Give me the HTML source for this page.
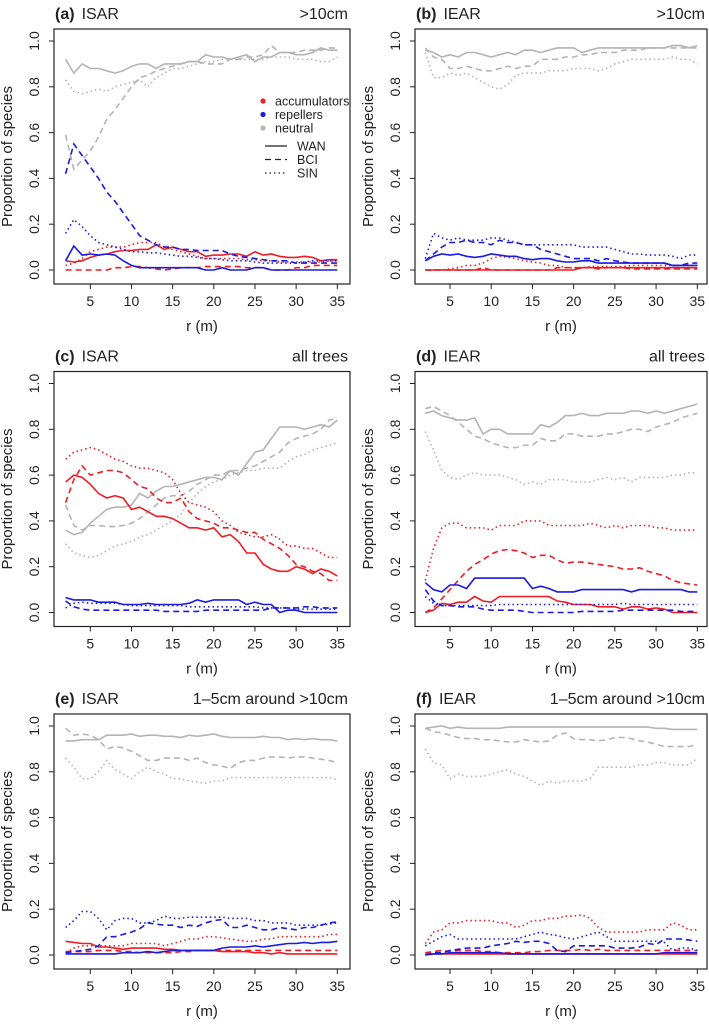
<!DOCTYPE html>
<html><head><meta charset="utf-8"><style>
body{margin:0;background:#fff;}
svg text{font-family:"Liberation Sans",sans-serif;fill:#222;}
</style></head><body>
<svg id="fig" width="709" height="1023" xmlns="http://www.w3.org/2000/svg"></svg>
<script>
const rVals=[];for(let r=2;r<=35;r++)rVals.push(r);
const xTicks=[5,10,15,20,25,30,35];
const yTicks=[0,0.2,0.4,0.6,0.8,1.0];
const yTickLabels=["0.0","0.2","0.4","0.6","0.8","1.0"];
const panelLabels=["(a)","(b)","(c)","(d)","(e)","(f)"];
const panelTypes=["ISAR","IEAR","ISAR","IEAR","ISAR","IEAR"];
const panelSubsets=[">10cm",">10cm","all trees","all trees","1–5cm around >10cm","1–5cm around >10cm"];

// panel a
const aNeuWAN=[0.92,0.86,0.90,0.88,0.88,0.87,0.86,0.87,0.89,0.90,0.90,0.88,0.90,0.90,0.90,0.91,0.91,0.94,0.93,0.93,0.92,0.93,0.94,0.91,0.93,0.93,0.95,0.95,0.94,0.94,0.95,0.97,0.96,0.96];
const aNeuBCI=[0.59,0.44,0.48,0.52,0.58,0.66,0.70,0.75,0.80,0.84,0.85,0.87,0.88,0.89,0.90,0.91,0.91,0.90,0.90,0.90,0.92,0.92,0.93,0.93,0.94,0.98,0.95,0.95,0.95,0.96,0.96,0.96,0.97,0.97];
const aNeuSIN=[0.83,0.78,0.77,0.78,0.79,0.78,0.80,0.81,0.82,0.83,0.80,0.84,0.86,0.88,0.88,0.89,0.90,0.91,0.91,0.92,0.92,0.92,0.92,0.92,0.92,0.93,0.93,0.93,0.92,0.92,0.92,0.91,0.91,0.93];
const aAccWAN=[0.04,0.035,0.04,0.055,0.065,0.07,0.08,0.085,0.085,0.09,0.09,0.11,0.09,0.1,0.09,0.08,0.08,0.06,0.065,0.065,0.07,0.07,0.06,0.08,0.065,0.07,0.06,0.055,0.055,0.06,0.055,0.04,0.045,0.045];
const aAccBCI=[0,0,0,0,0,0,0.01,0.01,0.015,0.015,0.01,0.005,0,0.005,0.01,0.01,0.01,0.015,0.015,0.015,0.015,0.015,0.01,0.01,0.01,0,0,0,0.01,0.01,0.02,0.02,0.02,0.02];
const aAccSIN=[0.02,0.03,0.05,0.08,0.09,0.1,0.1,0.1,0.11,0.12,0.12,0.12,0.1,0.09,0.08,0.07,0.06,0.05,0.05,0.05,0.05,0.05,0.045,0.045,0.04,0.04,0.035,0.035,0.035,0.035,0.035,0.035,0.04,0.04];
const aRepWAN=[0.04,0.105,0.065,0.07,0.065,0.07,0.065,0.04,0.02,0.01,0.01,0.01,0.01,0.01,0.01,0.01,0.01,0,0,0.01,0,0,0,0.01,0.01,0,0,0,0,0,0,0,0,0];
const aRepBCI=[0.42,0.55,0.5,0.45,0.4,0.34,0.3,0.25,0.2,0.15,0.13,0.11,0.1,0.1,0.09,0.09,0.085,0.085,0.085,0.085,0.07,0.06,0.055,0.05,0.045,0.04,0.04,0.04,0.03,0.03,0.03,0.03,0.03,0.03];
const aRepSIN=[0.16,0.22,0.19,0.15,0.12,0.11,0.1,0.09,0.08,0.08,0.075,0.075,0.07,0.065,0.06,0.06,0.055,0.05,0.05,0.045,0.04,0.04,0.04,0.035,0.03,0.03,0.03,0.03,0.03,0.035,0.04,0.04,0.04,0.04];
// panel b
const bNeuWAN=[0.96,0.95,0.93,0.94,0.93,0.95,0.95,0.94,0.93,0.94,0.95,0.94,0.96,0.96,0.95,0.96,0.97,0.97,0.97,0.95,0.96,0.97,0.97,0.97,0.97,0.97,0.97,0.97,0.97,0.97,0.98,0.98,0.97,0.98];
const bNeuBCI=[0.97,0.93,0.92,0.88,0.88,0.89,0.88,0.87,0.87,0.88,0.89,0.88,0.89,0.89,0.92,0.92,0.92,0.93,0.93,0.94,0.94,0.95,0.95,0.95,0.96,0.96,0.96,0.97,0.97,0.97,0.97,0.97,0.97,0.97];
const bNeuSIN=[0.95,0.84,0.84,0.86,0.85,0.86,0.84,0.82,0.80,0.79,0.81,0.85,0.86,0.86,0.86,0.87,0.87,0.87,0.88,0.88,0.88,0.87,0.88,0.9,0.91,0.92,0.92,0.92,0.92,0.92,0.93,0.92,0.92,0.90];
const bAccWAN=[0,0,0,0,0,0,0,0,0,0,0,0,0,0,0,0,0,0,0,0.01,0.01,0.01,0.01,0.01,0.01,0.01,0.01,0.01,0.01,0.01,0.01,0.01,0.01,0.01];
const bAccBCI=[0,0,0,0,0,0,0,0.01,0,0,0,0,0,0,0,0,0.01,0.01,0.01,0.01,0.01,0.005,0.01,0.01,0.01,0.005,0.005,0.005,0.005,0.005,0.005,0.005,0.005,0.005];
const bAccSIN=[0,0,0,0.005,0.01,0.02,0.02,0.03,0.05,0.06,0.055,0.05,0.04,0.035,0.03,0.02,0.02,0.01,0.01,0.01,0.015,0.015,0.015,0.015,0.015,0.02,0.02,0.02,0.02,0.02,0.02,0.02,0.02,0.02];
const bRepWAN=[0.04,0.06,0.07,0.065,0.07,0.06,0.055,0.06,0.07,0.065,0.06,0.06,0.05,0.045,0.05,0.05,0.04,0.035,0.035,0.04,0.04,0.03,0.03,0.03,0.03,0.03,0.03,0.03,0.03,0.03,0.02,0.02,0.02,0.02];
const bRepBCI=[0.04,0.07,0.1,0.12,0.12,0.13,0.12,0.12,0.11,0.13,0.12,0.12,0.11,0.11,0.09,0.08,0.07,0.06,0.05,0.05,0.05,0.04,0.05,0.04,0.035,0.03,0.03,0.03,0.03,0.03,0.02,0.02,0.03,0.03];
const bRepSIN=[0.05,0.16,0.14,0.13,0.14,0.13,0.13,0.13,0.14,0.14,0.13,0.12,0.11,0.11,0.11,0.11,0.11,0.11,0.11,0.1,0.1,0.1,0.1,0.09,0.08,0.07,0.07,0.065,0.065,0.065,0.06,0.05,0.065,0.065];
// panel c
const cNeuWAN=[0.36,0.34,0.35,0.39,0.42,0.45,0.46,0.46,0.47,0.52,0.5,0.53,0.55,0.55,0.56,0.57,0.58,0.59,0.59,0.58,0.62,0.60,0.65,0.70,0.71,0.76,0.81,0.81,0.81,0.80,0.81,0.82,0.81,0.84];
const cNeuBCI=[0.47,0.38,0.36,0.38,0.38,0.375,0.375,0.38,0.39,0.41,0.44,0.47,0.5,0.51,0.51,0.53,0.56,0.58,0.6,0.6,0.62,0.62,0.63,0.64,0.66,0.68,0.7,0.74,0.76,0.77,0.78,0.8,0.84,0.85];
const cNeuSIN=[0.3,0.26,0.25,0.24,0.25,0.27,0.29,0.3,0.31,0.33,0.34,0.36,0.38,0.40,0.43,0.48,0.52,0.55,0.57,0.58,0.60,0.61,0.62,0.62,0.63,0.63,0.63,0.66,0.68,0.69,0.71,0.72,0.73,0.74];
const cAccWAN=[0.57,0.6,0.59,0.56,0.52,0.5,0.51,0.5,0.45,0.46,0.44,0.42,0.42,0.41,0.39,0.37,0.37,0.36,0.37,0.33,0.34,0.31,0.26,0.26,0.21,0.19,0.18,0.18,0.2,0.19,0.17,0.19,0.18,0.16];
const cAccBCI=[0.48,0.58,0.64,0.6,0.61,0.62,0.62,0.61,0.58,0.55,0.54,0.5,0.48,0.48,0.50,0.44,0.41,0.40,0.39,0.37,0.37,0.36,0.35,0.35,0.32,0.30,0.28,0.25,0.21,0.2,0.18,0.17,0.14,0.14];
const cAccSIN=[0.67,0.70,0.71,0.72,0.71,0.69,0.67,0.66,0.64,0.63,0.63,0.62,0.61,0.58,0.52,0.48,0.47,0.46,0.44,0.40,0.38,0.35,0.34,0.33,0.33,0.34,0.32,0.29,0.29,0.28,0.28,0.26,0.24,0.24];
const cRepWAN=[0.065,0.055,0.055,0.055,0.045,0.045,0.045,0.035,0.035,0.035,0.04,0.035,0.035,0.035,0.035,0.04,0.055,0.045,0.055,0.055,0.055,0.055,0.035,0.045,0.035,0.035,0.0,0.01,0.01,0,0,0,0,0];
const cRepBCI=[0.05,0.025,0.015,0.01,0.01,0.01,0.01,0.01,0.01,0.01,0.01,0.01,0.005,0.005,0.005,0.005,0.005,0.01,0.01,0.01,0.01,0.01,0.01,0.01,0.01,0.02,0.02,0.02,0.02,0.025,0.025,0.02,0.02,0.02];
const cRepSIN=[0.02,0.04,0.045,0.04,0.04,0.04,0.04,0.035,0.03,0.03,0.03,0.03,0.03,0.03,0.03,0.025,0.025,0.025,0.025,0.025,0.025,0.025,0.025,0.025,0.02,0.02,0.02,0.02,0.015,0.015,0.015,0.015,0.015,0.015];
// panel d
const dNeuWAN=[0.87,0.88,0.86,0.85,0.84,0.84,0.85,0.78,0.80,0.80,0.78,0.78,0.78,0.78,0.82,0.81,0.83,0.86,0.86,0.87,0.86,0.86,0.87,0.87,0.87,0.88,0.88,0.87,0.88,0.87,0.88,0.89,0.9,0.91];
const dNeuBCI=[0.89,0.9,0.88,0.86,0.83,0.8,0.77,0.76,0.74,0.73,0.72,0.72,0.73,0.73,0.76,0.75,0.75,0.78,0.78,0.77,0.77,0.77,0.78,0.78,0.79,0.80,0.80,0.79,0.81,0.82,0.83,0.85,0.86,0.87];
const dNeuSIN=[0.79,0.71,0.62,0.59,0.58,0.6,0.61,0.6,0.6,0.6,0.59,0.58,0.56,0.57,0.56,0.58,0.58,0.58,0.57,0.57,0.57,0.58,0.59,0.58,0.59,0.57,0.59,0.59,0.59,0.59,0.6,0.6,0.61,0.61];
const dAccWAN=[0,0.01,0.04,0.035,0.045,0.045,0.07,0.05,0.045,0.07,0.07,0.07,0.07,0.07,0.07,0.07,0.05,0.045,0.035,0.035,0.035,0.025,0.025,0.025,0.015,0.025,0.025,0.015,0.02,0.015,0,0,0,0];
const dAccBCI=[0,0.02,0.06,0.1,0.14,0.18,0.21,0.23,0.255,0.27,0.275,0.27,0.26,0.24,0.25,0.25,0.23,0.215,0.22,0.22,0.215,0.21,0.205,0.2,0.19,0.19,0.195,0.18,0.17,0.16,0.14,0.13,0.125,0.12];
const dAccSIN=[0.14,0.28,0.37,0.39,0.39,0.37,0.37,0.37,0.36,0.38,0.38,0.38,0.4,0.4,0.4,0.38,0.38,0.38,0.38,0.38,0.39,0.38,0.37,0.38,0.37,0.38,0.38,0.38,0.37,0.37,0.36,0.36,0.36,0.36];
const dRepWAN=[0.13,0.1,0.09,0.12,0.12,0.105,0.15,0.15,0.15,0.15,0.15,0.15,0.15,0.105,0.115,0.105,0.09,0.09,0.09,0.1,0.1,0.1,0.1,0.1,0.1,0.09,0.1,0.1,0.1,0.1,0.1,0.1,0.09,0.09];
const dRepBCI=[0.1,0.05,0.03,0.03,0.025,0.025,0.025,0.015,0.01,0.01,0.01,0.01,0.005,0,0,0,0,0,0,0.005,0.005,0.005,0.005,0.005,0.01,0.01,0.01,0.01,0.01,0.01,0.01,0.005,0.005,0.005];
const dRepSIN=[0.07,0.04,0.03,0.03,0.03,0.03,0.03,0.03,0.03,0.035,0.035,0.035,0.035,0.035,0.035,0.035,0.035,0.035,0.035,0.035,0.035,0.035,0.035,0.035,0.04,0.035,0.035,0.035,0.035,0.035,0.035,0.035,0.035,0.035];
// panel e
const eNeuWAN=[0.935,0.935,0.94,0.94,0.94,0.96,0.96,0.96,0.965,0.955,0.96,0.96,0.955,0.955,0.95,0.96,0.955,0.96,0.965,0.955,0.95,0.95,0.95,0.95,0.955,0.95,0.95,0.94,0.945,0.94,0.945,0.94,0.94,0.935];
const eNeuBCI=[0.99,0.96,0.965,0.96,0.94,0.9,0.91,0.905,0.89,0.87,0.85,0.85,0.86,0.86,0.86,0.85,0.86,0.84,0.83,0.825,0.815,0.84,0.85,0.85,0.86,0.865,0.865,0.86,0.865,0.865,0.86,0.855,0.85,0.84];
const eNeuSIN=[0.86,0.82,0.77,0.77,0.8,0.85,0.81,0.79,0.77,0.8,0.82,0.8,0.79,0.77,0.77,0.76,0.755,0.75,0.76,0.76,0.775,0.775,0.775,0.775,0.775,0.775,0.775,0.775,0.775,0.775,0.775,0.775,0.775,0.765];
const eAccWAN=[0.06,0.055,0.05,0.05,0.035,0.035,0.03,0.025,0.03,0.03,0.03,0.03,0.025,0.025,0.02,0.02,0.02,0.02,0.02,0.015,0.015,0.015,0.015,0.01,0.01,0.005,0.01,0.005,0.005,0.005,0.005,0.005,0.005,0.005];
const eAccBCI=[0.015,0.015,0.015,0.015,0.02,0.02,0.02,0.015,0.015,0.01,0.01,0.01,0.01,0.01,0.015,0.015,0.02,0.02,0.02,0.02,0.02,0.02,0.02,0.02,0.02,0.02,0.02,0.02,0.02,0.02,0.02,0.02,0.02,0.02];
const eAccSIN=[0.01,0.03,0.04,0.04,0.04,0.04,0.04,0.04,0.05,0.05,0.05,0.05,0.04,0.05,0.06,0.07,0.07,0.08,0.08,0.075,0.07,0.065,0.06,0.06,0.07,0.07,0.08,0.08,0.08,0.08,0.08,0.08,0.09,0.09];
const eRepWAN=[0.005,0.005,0.005,0.005,0.005,0.005,0.005,0.01,0.01,0.01,0.015,0.01,0.015,0.02,0.02,0.02,0.02,0.02,0.02,0.03,0.035,0.035,0.035,0.04,0.035,0.04,0.045,0.05,0.05,0.055,0.05,0.055,0.055,0.06];
const eRepBCI=[0.01,0.015,0.02,0.025,0.04,0.08,0.08,0.09,0.1,0.115,0.14,0.135,0.13,0.13,0.12,0.13,0.125,0.14,0.15,0.155,0.12,0.12,0.13,0.12,0.11,0.11,0.12,0.115,0.11,0.12,0.12,0.13,0.14,0.145];
const eRepSIN=[0.12,0.15,0.19,0.19,0.16,0.11,0.15,0.16,0.16,0.14,0.14,0.15,0.17,0.16,0.16,0.165,0.165,0.165,0.165,0.165,0.16,0.16,0.16,0.15,0.15,0.14,0.14,0.14,0.13,0.13,0.13,0.13,0.135,0.14];
// panel f
const fNeuWAN=[0.99,0.995,1.0,0.99,0.995,0.99,0.99,0.99,0.99,0.99,0.995,0.995,0.995,0.995,0.995,0.995,0.995,0.995,0.995,0.995,0.995,0.995,0.995,0.995,0.995,0.995,0.995,0.995,0.99,0.99,0.985,0.985,0.985,0.985];
const fNeuBCI=[0.99,0.975,0.97,0.96,0.95,0.945,0.945,0.94,0.94,0.935,0.93,0.93,0.94,0.935,0.93,0.935,0.96,0.97,0.945,0.94,0.94,0.935,0.94,0.95,0.95,0.945,0.935,0.93,0.92,0.91,0.91,0.91,0.91,0.92];
const fNeuSIN=[0.9,0.84,0.83,0.77,0.79,0.78,0.78,0.78,0.79,0.8,0.81,0.79,0.78,0.76,0.74,0.76,0.75,0.76,0.76,0.76,0.77,0.82,0.82,0.82,0.82,0.82,0.83,0.83,0.84,0.84,0.83,0.83,0.83,0.86];
const fAccWAN=[0.005,0.005,0.005,0.005,0.005,0.005,0.005,0.005,0.005,0.005,0.005,0.005,0.005,0.005,0.005,0.005,0.005,0.005,0.005,0.005,0.005,0.005,0.005,0.005,0.005,0.005,0.005,0.005,0.005,0.005,0.005,0.005,0.005,0.005];
const fAccBCI=[0.01,0.015,0.02,0.015,0.02,0.02,0.02,0.015,0.015,0.01,0.01,0.01,0.01,0.015,0.015,0.02,0.02,0.02,0.02,0.025,0.02,0.025,0.02,0.02,0.02,0.02,0.02,0.02,0.02,0.02,0.02,0.02,0.02,0.02];
const fAccSIN=[0.05,0.1,0.11,0.14,0.14,0.15,0.15,0.15,0.15,0.14,0.14,0.12,0.13,0.15,0.15,0.16,0.16,0.17,0.17,0.175,0.16,0.12,0.1,0.1,0.1,0.1,0.1,0.11,0.11,0.11,0.14,0.13,0.11,0.11];
const fRepWAN=[0,0.005,0.005,0.01,0.01,0.01,0.01,0.01,0.01,0.01,0.005,0.005,0.005,0.005,0.005,0.005,0.005,0.005,0.005,0.005,0.005,0.005,0.005,0.005,0.005,0.005,0.005,0.005,0.005,0.01,0.01,0.01,0.01,0.01];
const fRepBCI=[0,0.01,0.01,0.02,0.025,0.03,0.03,0.03,0.04,0.045,0.05,0.06,0.055,0.06,0.06,0.05,0.02,0.015,0.04,0.04,0.04,0.04,0.04,0.03,0.03,0.03,0.035,0.05,0.045,0.07,0.07,0.07,0.065,0.06];
const fRepSIN=[0.04,0.06,0.08,0.09,0.07,0.07,0.07,0.07,0.07,0.07,0.07,0.07,0.08,0.09,0.1,0.09,0.085,0.075,0.07,0.08,0.09,0.1,0.08,0.06,0.06,0.06,0.06,0.06,0.06,0.055,0.02,0.03,0.03,0.02];

const panelSeries=[
 [aNeuWAN,aNeuBCI,aNeuSIN,aAccWAN,aAccBCI,aAccSIN,aRepWAN,aRepBCI,aRepSIN],
 [bNeuWAN,bNeuBCI,bNeuSIN,bAccWAN,bAccBCI,bAccSIN,bRepWAN,bRepBCI,bRepSIN],
 [cNeuWAN,cNeuBCI,cNeuSIN,cAccWAN,cAccBCI,cAccSIN,cRepWAN,cRepBCI,cRepSIN],
 [dNeuWAN,dNeuBCI,dNeuSIN,dAccWAN,dAccBCI,dAccSIN,dRepWAN,dRepBCI,dRepSIN],
 [eNeuWAN,eNeuBCI,eNeuSIN,eAccWAN,eAccBCI,eAccSIN,eRepWAN,eRepBCI,eRepSIN],
 [fNeuWAN,fNeuBCI,fNeuSIN,fAccWAN,fAccBCI,fAccSIN,fRepWAN,fRepBCI,fRepSIN]];
const seriesGroups=["neutral","neutral","neutral","accumulators","accumulators","accumulators","repellers","repellers","repellers"];
const seriesSites=["WAN","BCI","SIN","WAN","BCI","SIN","WAN","BCI","SIN"];

const NS="http://www.w3.org/2000/svg";
const svg=document.getElementById('fig');
const colors={neutral:"#b4b4b4",accumulators:"#ee1c24",repellers:"#1b1be0"};
const dashes={WAN:"",BCI:"6,4",SIN:"1.5,3"};
function mk(tag,attrs,parent){const e=document.createElementNS(NS,tag);for(const k in attrs)e.setAttribute(k,attrs[k]);(parent||svg).appendChild(e);return e;}

for(let p=0;p<6;p++){
  const col=p%2,row=Math.floor(p/2);
  const dy=row*342.5;
  const bx0=col?415:54,bx1=col?707:350;
  const x5=col?450:90.3,x35=col?697.3:337.3;
  const y1=41+dy,y0=270+dy;
  const bt=29+dy,bb=284+dy;
  const xs=v=>x5+(v-5)*(x35-x5)/30;
  const ys=v=>y0+(y1-y0)*v;
  const g=mk('g',{});
  
  
  const t1=mk('text',{x:bx0+1,y:19+dy,'font-size':16},g);
  
  
  const tb=mk('tspan',{'font-weight':'bold'},t1);tb.textContent=panelLabels[p];
  const tt=mk('tspan',{dx:7},t1);tt.textContent=panelTypes[p];
  const t2=mk('text',{x:bx1-2,y:19+dy,'font-size':16,'text-anchor':'end'},g);
  t2.textContent=panelSubsets[p];
  
  
  const box=mk('rect',{x:bx0,y:bt,width:bx1-bx0,height:bb-bt,fill:'none',stroke:'#222','stroke-width':1.2},g);
  
  
  for(let i=0;i<xTicks.length;i++){
    const x=xs(xTicks[i]);
    mk('line',{x1:x,x2:x,y1:bb,y2:bb+5,stroke:'#222'},g);
    const tl=mk('text',{x:x,y:bb+22,'font-size':14,'text-anchor':'middle'},g);
    tl.textContent=xTicks[i];
    
    
  }
  for(let i=0;i<yTicks.length;i++){
    const y=ys(yTicks[i]);
    mk('line',{x1:bx0-5,x2:bx0,y1:y,y2:y,stroke:'#222'},g);
    const tl=mk('text',{x:0,y:0,'font-size':14,'text-anchor':'middle',transform:`translate(${bx0-15},${y}) rotate(-90)`},g);
    tl.textContent=yTickLabels[i];
    
    
  }
  const xt=mk('text',{x:(bx0+bx1)/2,y:bb+47,'font-size':15,'text-anchor':'middle'},g);
  xt.textContent='r (m)';
  
  
  const yt=mk('text',{x:0,y:0,'font-size':15,'text-anchor':'middle',transform:`translate(${bx0-42},${(bt+bb)/2}) rotate(-90)`},g);
  yt.textContent='Proportion of species';
  
  
  const ser=panelSeries[p];
  for(let s=0;s<ser.length;s++){
    const d=ser[s].map((v,i)=>(i?'L':'M')+xs(rVals[i]).toFixed(1)+','+ys(v).toFixed(1)).join('');
    const path=mk('path',{d:d,fill:'none',stroke:colors[seriesGroups[s]],'stroke-width':1.6,'stroke-dasharray':dashes[seriesSites[s]]},g);
    
    
  }
}
// legend in panel a
const lg=mk('g',{});


const legGroups=["accumulators","repellers","neutral"];
legGroups.forEach((k,i)=>{
  const y=101+i*13.5;
  mk('circle',{cx:263,cy:y,r:2.6,fill:colors[k]},lg);
  const t=mk('text',{x:275,y:y+4.5,'font-size':12.5},lg);
  t.textContent=k;
  
  
});
const legSites=["WAN","BCI","SIN"];
legSites.forEach((k,i)=>{
  const y=146+i*13.5;
  mk('line',{x1:265,x2:287,y1:y,y2:y,stroke:'#222','stroke-width':1.2,'stroke-dasharray':dashes[k]},lg);
  const t=mk('text',{x:297,y:y+4.5,'font-size':12.5},lg);
  t.textContent=k;
  
  
});
</script>
</body></html>
